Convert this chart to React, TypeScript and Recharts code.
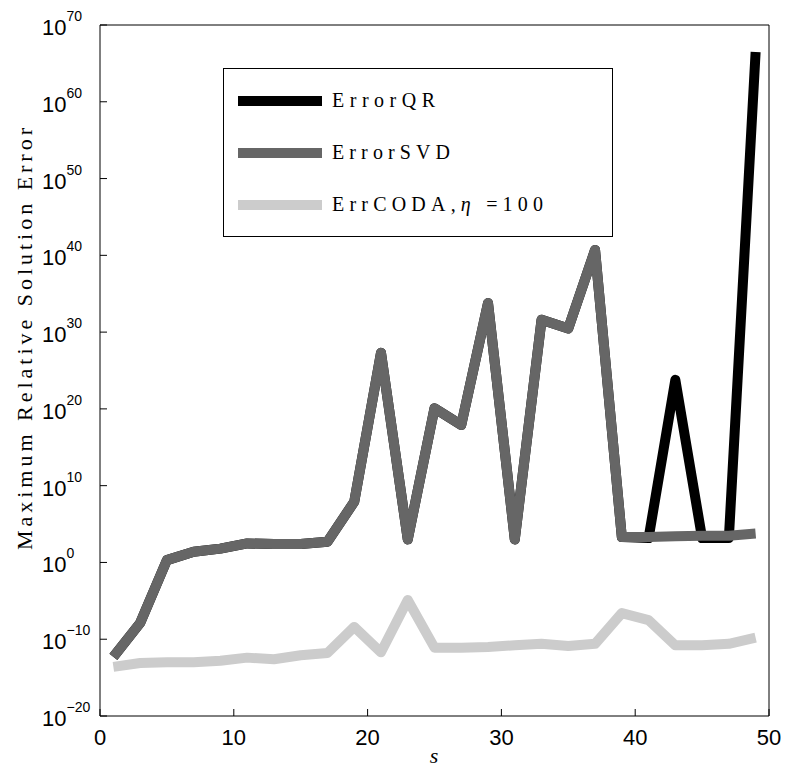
import React from 'react'
import { LineChart, Line, XAxis, YAxis, Legend } from 'recharts'

// s values (odd sizes)
const sValues = [1, 3, 5, 7, 9, 11, 13, 15, 17, 19, 21, 23, 25, 27, 29, 31, 33, 35, 37, 39, 41, 43, 45, 47, 49]

const errorQR = [
  5e-13, 1.3e-8, 2, 25, 63, 3e2, 2.5e2, 2.5e2, 5e2, 8e7, 2e27, 1e3, 1.2e20, 8e17, 6e33, 1e3, 4e31, 3e30, 5e40, 2e3,
  1.5e3, 6e23, 1.5e3, 1.5e3, 3e66,
]
const errorSVD = [
  5e-13, 1.3e-8, 2, 25, 63, 3e2, 2.5e2, 2.5e2, 5e2, 8e7, 2e27, 1e3, 1.2e20, 8e17, 6e33, 1e3, 4e31, 3e30, 5e40, 2e3,
  2e3, 2.5e3, 3e3, 3e3, 6e3,
]
const errCODA = [
  2.5e-14, 8e-14, 1e-13, 1e-13, 1.6e-13, 4e-13, 2.5e-13, 8e-13, 1.6e-12, 4e-9, 2e-12, 1.3e-5, 8e-12, 8e-12, 1e-11,
  1.6e-11, 2.5e-11, 1.3e-11, 2.5e-11, 2.5e-7, 3e-8, 1.6e-11, 1.6e-11, 2.5e-11, 1.6e-10,
]

const xTicks = [0, 10, 20, 30, 40, 50]
const yTicks = [1e-20, 1e-10, 1, 1e10, 1e20, 1e30, 1e40, 1e50, 1e60, 1e70]

const series = [
  { key: 'qr', name: 'ErrorQR', color: '#000000', textLen: 103 },
  { key: 'svd', name: 'ErrorSVD', color: '#666666', textLen: 118 },
  { key: 'coda', name: 'ErrCODA,η =100', color: '#cccccc', textLen: 211 },
]

const data = sValues.map((s, i) => ({
  s,
  qr: errorQR[i],
  svd: errorSVD[i],
  coda: errCODA[i],
}))

const sans = '"Liberation Sans", Arial, sans-serif'
const serif = '"Liberation Serif", "Times New Roman", serif'

const YTick = ({ y, payload }: any) => {
  const exp = Math.round(Math.log10(payload.value))
  const expLabel = exp < 0 ? '\u2212' + Math.abs(exp) : String(exp)
  return (
    <text x={42} y={y + 10} fontFamily={sans} fontSize={22} fill="#000">
      10
      <tspan dy={-14} fontSize={14}>
        {expLabel}
      </tspan>
    </text>
  )
}

const XTick = ({ x, payload }: any) => (
  <text x={x} y={745} textAnchor="middle" fontFamily={sans} fontSize={22} fill="#000">
    {payload.value}
  </text>
)

const LegendBox = () => (
  <svg width={391} height={170} style={{ display: 'block' }}>
    <rect x={0.5} y={0.5} width={389} height={168} fill="#fff" stroke="#000" strokeWidth={1} />
    {series.map((s, i) => (
      <g key={s.key}>
        <line x1={15} x2={99} y1={33 + i * 52} y2={33 + i * 52} stroke={s.color} strokeWidth={10} />
        <text
          x={109}
          y={39 + i * 52}
          fontFamily={serif}
          fontSize={20}
          fill="#000"
          textLength={s.textLen}
          lengthAdjust="spacing"
        >
          {s.key === 'coda' ? (
            <>
              ErrCODA,<tspan fontStyle="italic">η</tspan> =100
            </>
          ) : (
            s.name
          )}
        </text>
      </g>
    ))}
  </svg>
)

export default function App() {
  return (
    <div style={{ position: 'absolute', left: 0, top: 0, width: 786, height: 769, background: '#fff' }}>
      <LineChart width={786} height={769} data={data} margin={{ top: 0, right: 0, bottom: 0, left: 0 }}>
        <XAxis
          dataKey="s"
          type="number"
          domain={[0, 50]}
          ticks={xTicks}
          height={53}
          tickSize={-7}
          stroke="#000"
          tick={<XTick />}
          allowDataOverflow
        />
        <XAxis
          xAxisId="top"
          orientation="top"
          type="number"
          domain={[0, 50]}
          ticks={xTicks}
          height={25}
          tickSize={-7}
          stroke="#000"
          tick={false}
          allowDataOverflow
        />
        <YAxis
          type="number"
          scale="log"
          domain={[1e-20, 1e70]}
          ticks={yTicks}
          width={100}
          tickSize={-7}
          stroke="#000"
          tick={<YTick />}
          allowDataOverflow
        />
        <YAxis
          yAxisId="right"
          orientation="right"
          type="number"
          scale="log"
          domain={[1e-20, 1e70]}
          ticks={yTicks}
          width={17}
          tickSize={-7}
          stroke="#000"
          tick={false}
          allowDataOverflow
        />
        {series.map((s) => (
          <Line
            key={s.key}
            dataKey={s.key}
            name={s.name}
            type="linear"
            stroke={s.color}
            strokeWidth={10}
            strokeLinejoin="round"
            dot={false}
            activeDot={false}
            isAnimationActive={false}
          />
        ))}
        <Legend
          layout="horizontal"
          verticalAlign="middle"
          align="center"
          content={<LegendBox />}
          wrapperStyle={{ position: 'absolute', left: 223, top: 68, width: 391, height: 170 }}
        />
      </LineChart>
      <svg width={786} height={769} style={{ position: 'absolute', left: 0, top: 0, pointerEvents: 'none' }}>
        <text
          transform="translate(32, 339) rotate(-90)"
          textAnchor="middle"
          fontFamily={serif}
          fontSize={22}
          fill="#000"
          textLength={422}
          lengthAdjust="spacing"
        >
          Maximum Relative Solution Error
        </text>
        <text x={434} y={763} textAnchor="middle" fontFamily={serif} fontStyle="italic" fontSize={22} fill="#000">
          s
        </text>
      </svg>
    </div>
  )
}
